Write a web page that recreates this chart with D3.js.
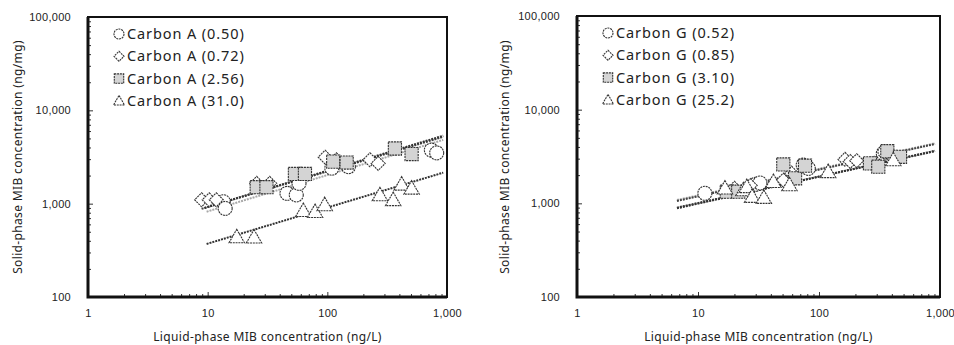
<!DOCTYPE html>
<html>
<head>
<meta charset="utf-8">
<script src="https://cdn.jsdelivr.net/npm/d3@7"></script>
<style>
  body { margin: 0; background: #fff; }
  svg { display: block; font-family: "Noto Sans", "Open Sans", sans-serif; }
  .tickLabel { font-size: 11px; letter-spacing: 0.3px; fill: #222; }
  .axisTitle { font-size: 12px; letter-spacing: 0.35px; fill: #222; }
  .legendText { font-size: 14.5px; letter-spacing: 0.9px; fill: #222; }
</style>
</head>
<body>
<div id="chart"></div>
<script>
/*********************************************************/
// Values
// each point is [liquid-phase ng/L, solid-phase ng/mg]

const majorTicksX = [1, 10, 100, 1000];
const majorTicksY = [100, 1000, 10000, 100000];

// Carbon A (left panel)
const legendA = ["Carbon A (0.50)", "Carbon A (0.72)", "Carbon A (2.56)", "Carbon A (31.0)"];
const carbonA050 = [[13.5, 1050], [14, 890], [46, 1290], [55, 1240], [58, 1650], [109, 2400], [150, 2490], [740, 3750], [820, 3500]];
const carbonA072 = [[8.9, 1100], [10.3, 1100], [11.8, 1100], [25.7, 1650], [33, 1650], [96, 3150], [119, 2950], [227, 2950], [266, 2700]];
const carbonA256 = [[25.7, 1500], [31, 1500], [53.6, 2080], [65, 2080], [112, 2820], [145, 2760], [367, 3900], [506, 3400]];
const carbonA310 = [[17.5, 440], [24.4, 437], [63, 840], [79, 820], [95, 970], [275, 1240], [355, 1100], [418, 1610], [506, 1460]];
// fitted lines, [start, end]
const fitA050 = [[9.8, 820], [930, 4820]];
const fitA072 = [[8.9, 880], [930, 5200]];
const fitA256 = [[9.4, 900], [930, 5350]];
const fitA310 = [[9.8, 370], [930, 2150]];

// Carbon G (right panel)
const legendG = ["Carbon G (0.52)", "Carbon G (0.85)", "Carbon G (3.10)", "Carbon G (25.2)"];
const carbonG052 = [[11.4, 1280], [30, 1600], [32.5, 1650], [74, 2560], [81.6, 2360], [340, 3400], [351, 3560]];
const carbonG085 = [[20, 1450], [27, 1550], [50.7, 1770], [59.4, 2100], [164, 2950], [181, 2800], [205, 2850], [440, 3100]];
const carbonG310 = [[17.3, 1330], [21.5, 1330], [50.7, 2600], [63.4, 1850], [76.6, 2520], [264, 2670], [309, 2460], [367, 3600], [467, 3140]];
const carbonG252 = [[16.7, 1450], [23.7, 1390], [25.3, 1500], [28, 1180], [35, 1150], [42, 1700], [57, 1570], [119, 2170], [411, 2900]];
const fitG052 = [[6.7, 1085], [909, 4370]];
const fitG085 = [[6.7, 1060], [909, 4300]];
const fitG310 = [[6.7, 885], [909, 3640]];
const fitG252 = [[6.7, 900], [909, 3600]];

/*********************************************************/

const svgWidth = 954;
const svgHeight = 345;

const svg = d3
  .select("#chart")
  .append("svg")
  .attr("width", svgWidth)
  .attr("height", svgHeight);

const shapes = ["circle", "diamond", "square", "triangle"];
const fitColors = ["#a8a8a8", "#444", "#333", "#333"];

// minor ticks 2..9 in each decade
function minorTicks(lo, hi) {
  let out = [];
  for (let d = lo; d < hi; d *= 10) {
    for (let k = 2; k <= 9; k++) out.push(d * k);
  }
  return out;
}

function drawMarker(g, shape, x, y, size) {
  let s = size;
  let m;
  if (shape === "circle") {
    m = g.append("circle").attr("cx", x).attr("cy", y).attr("r", s * 0.5).attr("fill", "#fff");
  } else if (shape === "diamond") {
    let h = s * 0.5;
    m = g.append("path")
      .attr("d", `M${x},${y - h}L${x + h},${y}L${x},${y + h}L${x - h},${y}Z`)
      .attr("fill", "#fff");
  } else if (shape === "square") {
    let h = s * 0.47;
    m = g.append("rect").attr("x", x - h).attr("y", y - h).attr("width", 2 * h).attr("height", 2 * h)
      .attr("fill", "#d4d4d4");
  } else {
    let h = s * 0.55;
    m = g.append("path")
      .attr("d", `M${x},${y - h}L${x + h},${y + h * 0.75}L${x - h},${y + h * 0.75}Z`)
      .attr("fill", "#fff");
  }
  m.attr("stroke", "#333").attr("stroke-width", 1.1).attr("stroke-dasharray", "2,0.8");
}

function drawPanel(cfg) {
  const xScale = d3.scaleLog().domain([1, 1000]).range([cfg.left, cfg.right]);
  const yScale = d3.scaleLog().domain([100, 100000]).range([cfg.bottom, cfg.top]);
  const g = svg.append("g");

  /************** minor + major ticks, inside ************/
  g.append("g")
    .attr("transform", `translate(0,${cfg.bottom})`)
    .call(d3.axisBottom(xScale).tickValues(minorTicks(1, 1000)).tickSize(-3).tickFormat(""))
    .call(a => a.select(".domain").remove())
    .selectAll("line").attr("stroke", "#333");

  g.append("g")
    .attr("transform", `translate(${cfg.left},0)`)
    .call(d3.axisLeft(yScale).tickValues(minorTicks(100, 100000)).tickSize(-3).tickFormat(""))
    .call(a => a.select(".domain").remove())
    .selectAll("line").attr("stroke", "#333");

  let bottomAxis = g.append("g")
    .attr("transform", `translate(0,${cfg.bottom})`)
    .call(d3.axisBottom(xScale).tickValues(majorTicksX).tickSize(-5).tickPadding(12).tickFormat(d3.format(",")));
  bottomAxis.select(".domain").remove();
  bottomAxis.selectAll("line").attr("stroke", "#333");
  bottomAxis.selectAll("text").attr("class", "tickLabel").attr("font-family", null).attr("font-size", null);

  let leftAxis = g.append("g")
    .attr("transform", `translate(${cfg.left},0)`)
    .call(d3.axisLeft(yScale).tickValues(majorTicksY).tickSize(-5).tickPadding(17).tickFormat(d3.format(",")));
  leftAxis.select(".domain").remove();
  leftAxis.selectAll("line").attr("stroke", "#333");
  leftAxis.selectAll("text").attr("class", "tickLabel").attr("font-family", null).attr("font-size", null);

  /************** frame ************/
  g.append("rect")
    .attr("x", cfg.left).attr("y", cfg.top)
    .attr("width", cfg.right - cfg.left).attr("height", cfg.bottom - cfg.top)
    .attr("fill", "none").attr("stroke", "#111").attr("stroke-width", 2);
  g.append("path")
    .attr("d", `M${cfg.left},${cfg.top}V${cfg.bottom}H${cfg.right}`)
    .attr("fill", "none").attr("stroke", "#111").attr("stroke-width", 3);

  /************** fitted lines ************/
  const line = d3.line().x(d => xScale(d[0])).y(d => yScale(d[1]));
  cfg.fits.forEach((f, i) => {
    g.append("path")
      .attr("d", line(f))
      .attr("fill", "none")
      .attr("stroke", fitColors[i])
      .attr("stroke-width", 2)
      .attr("stroke-dasharray", "2,1");
  });

  /************** points ************/
  cfg.series.forEach((s, i) => {
    const sg = g.append("g");
    s.forEach(p => drawMarker(sg, shapes[i], xScale(p[0]), yScale(p[1]), 14));
  });

  /************** legend ************/
  cfg.legend.forEach((name, i) => {
    const ly = cfg.legendY + i * 22.3;
    drawMarker(g, shapes[i], cfg.legendX, ly, 10);
    g.append("text")
      .attr("class", "legendText")
      .attr("x", cfg.legendX + 8)
      .attr("y", ly)
      .attr("dy", "0.35em")
      .text(name);
  });

  /************** axis titles ************/
  g.append("text")
    .attr("class", "axisTitle")
    .attr("x", (cfg.left + cfg.right) / 2)
    .attr("y", 341)
    .attr("text-anchor", "middle")
    .text("Liquid-phase MIB concentration (ng/L)");

  g.append("text")
    .attr("class", "axisTitle")
    .attr("transform", `translate(${cfg.titleX},157) rotate(-90)`)
    .attr("text-anchor", "middle")
    .text("Solid-phase MIB concentration (ng/mg)");
}

drawPanel({
  left: 88, right: 447, top: 17, bottom: 297,
  series: [carbonA050, carbonA072, carbonA256, carbonA310],
  fits: [fitA050, fitA072, fitA256, fitA310],
  legend: legendA, legendX: 119, legendY: 34, titleX: 22
});

drawPanel({
  left: 577, right: 940, top: 16, bottom: 297,
  series: [carbonG052, carbonG085, carbonG310, carbonG252],
  fits: [fitG052, fitG085, fitG310, fitG252],
  legend: legendG, legendX: 608, legendY: 33, titleX: 509
});
</script>
</body>
</html>
